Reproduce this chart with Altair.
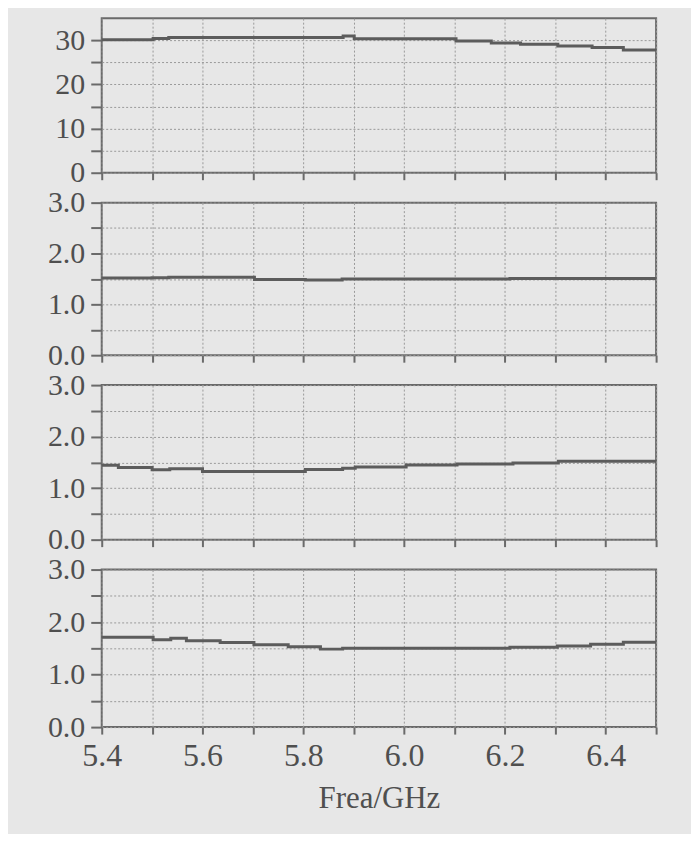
import altair as alt
import pandas as pd

# Panel 1 (0-35 scale)
x1 = [5.4, 5.502, 5.533, 5.879, 5.901, 6.103, 6.173, 6.231, 6.305, 6.373, 6.435, 6.5]
y1 = [30.1, 30.4, 30.65, 30.95, 30.35, 29.85, 29.4, 29.1, 28.7, 28.35, 27.8, 27.8]

# Panel 2
x2 = [5.4, 5.5, 5.533, 5.703, 5.804, 5.877, 6.21, 6.5]
y2 = [1.52, 1.525, 1.535, 1.49, 1.48, 1.50, 1.51, 1.51]

# Panel 3
x3 = [5.4, 5.433, 5.5, 5.535, 5.6, 5.804, 5.878, 5.903, 6.004, 6.105, 6.216, 6.306, 6.5]
y3 = [1.445, 1.40, 1.355, 1.375, 1.325, 1.36, 1.385, 1.41, 1.45, 1.47, 1.49, 1.52, 1.52]

# Panel 4
x4 = [5.4, 5.502, 5.537, 5.568, 5.635, 5.702, 5.77, 5.834, 5.878, 6.21, 6.304, 6.37, 6.435, 6.5]
y4 = [1.71, 1.665, 1.69, 1.645, 1.61, 1.57, 1.53, 1.485, 1.50, 1.52, 1.545, 1.58, 1.615, 1.615]

x_ticks = [5.4, 5.5, 5.6, 5.7, 5.8, 5.9, 6.0, 6.1, 6.2, 6.3, 6.4, 6.5]
x_labels = ["5.4", "5.6", "5.8", "6.0", "6.2", "6.4"]
y1_ticks = [0, 5, 10, 15, 20, 25, 30]
y_ticks = [0.0, 0.5, 1.0, 1.5, 2.0, 2.5, 3.0]

FONT = "Liberation Serif"
BG = "#e7e7e7"
LINE = "#5c5c5c"
AXC = "#6a6a6a"
GRID = "#9a9a9a"
TXT = "#4f4f4f"
W = 556

lab_list = "[" + ",".join("'" + s + "'" for s in x_labels) + "]"


def panel(xs, ys, ymax, yvals, ylabexpr, h, bottom=False):
    df = pd.DataFrame({"f": xs, "v": ys})
    xaxis = alt.Axis(
        values=x_ticks,
        labelExpr=(f"indexof({lab_list}, format(datum.value, '.1f')) >= 0 ? format(datum.value, '.1f') : ''"
                   if bottom else "''"),
        labels=bottom,
        labelFlush=False, labelOverlap=False,
        tickSize=7, tickWidth=2, tickColor=AXC,
        domain=False,
        grid=True, gridDash=[2, 2], gridColor=GRID, gridWidth=1,
        labelFont=FONT, labelFontSize=32, labelColor=TXT, labelPadding=7,
        titleFont=FONT, titleFontSize=31, titleFontWeight="normal", titleColor=TXT,
        titlePadding=12,
    )
    yaxis = alt.Axis(
        values=yvals, labelExpr=ylabexpr,
        labelFlush=False, labelOverlap=False,
        tickSize=11, tickWidth=2, tickColor=AXC,
        domain=False,
        grid=True, gridDash=[2, 2], gridColor=GRID, gridWidth=1,
        labelFont=FONT, labelFontSize=30, labelColor=TXT, labelPadding=6,
        labelBaseline="middle",
    )
    return alt.Chart(df).mark_line(
        interpolate="step-after", color=LINE, strokeWidth=3
    ).encode(
        x=alt.X("f:Q", scale=alt.Scale(domain=[5.4, 6.5], nice=False, zero=False),
                axis=xaxis, title=("Frea/GHz" if bottom else None)),
        y=alt.Y("v:Q", scale=alt.Scale(domain=[0, ymax], nice=False),
                axis=yaxis, title=None),
    ).properties(width=W, height=h)


p1 = panel(x1, y1, 35, y1_ticks, "datum.value % 10 == 0 ? datum.label : ''", 155)
lab3 = "datum.value % 1 == 0 ? format(datum.value, '.1f') : ''"
p2 = panel(x2, y2, 3.0, y_ticks, lab3, 153)
p3 = panel(x3, y3, 3.0, y_ticks, lab3, 155)
p4 = panel(x4, y4, 3.0, y_ticks, lab3, 158, bottom=True)

chart = alt.vconcat(p1, p2, p3, p4, spacing=30, bounds="flush").properties(
    padding={"left": 38, "top": 8, "right": 28, "bottom": 18},
    background=BG,
).configure_view(
    stroke=AXC, strokeWidth=2, fill=BG
)

chart.save("out.html", embed_options={"renderer": "svg", "actions": False})
